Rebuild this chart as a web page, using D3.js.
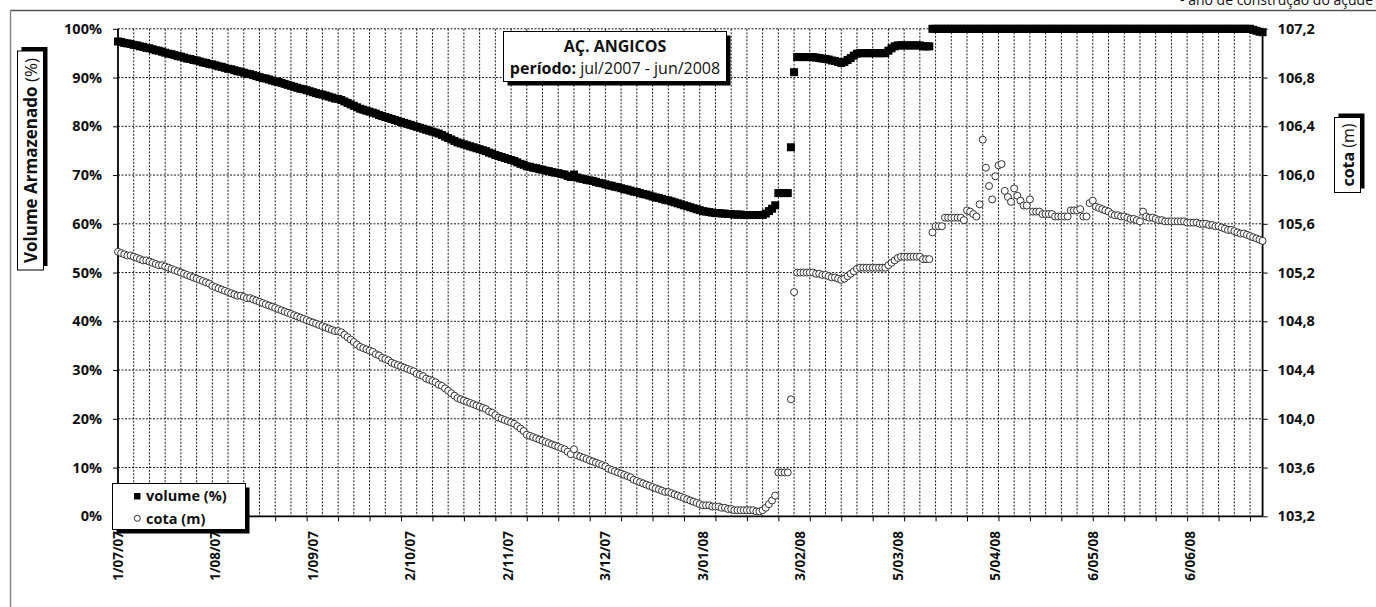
<!DOCTYPE html>
<html><head><meta charset="utf-8">
<script src="https://cdn.jsdelivr.net/npm/d3@7"></script>
<style>
body{margin:0;background:#fff}
svg{display:block}
text{font-family:"Open Sans",sans-serif;fill:#111}
</style>
</head><body>
<svg id="chart" width="1376" height="607"></svg>
<script>
// ---------- data ----------
const startDay = "2007-07-01";   // first daily reading
const endDay = "2008-06-29";     // last daily reading

// volume armazenado (%) - one value per day from 1/07/07
const volume = [
97.4,97.3,97.1,97.0,96.9,96.7,96.6,96.4,96.3,96.1,
96.0,95.8,95.6,95.5,95.3,95.1,94.9,94.8,94.6,94.4,
94.3,94.1,93.9,93.8,93.6,93.5,93.3,93.1,93.0,92.8,
92.7,92.5,92.3,92.2,92.0,91.8,91.7,91.5,91.3,91.2,
91.0,90.8,90.7,90.5,90.3,90.1,89.9,89.8,89.6,89.4,
89.2,89.1,88.9,88.7,88.5,88.3,88.1,87.9,87.7,87.6,
87.4,87.2,87.0,86.8,86.6,86.5,86.3,86.1,85.9,85.7,
85.6,85.4,85.1,84.8,84.5,84.2,83.9,83.6,83.4,83.2,
83.0,82.8,82.6,82.3,82.1,81.9,81.7,81.5,81.3,81.1,
80.9,80.7,80.5,80.3,80.1,79.9,79.7,79.5,79.3,79.1,
78.9,78.7,78.5,78.2,77.9,77.6,77.3,77.0,76.7,76.5,
76.3,76.1,75.9,75.7,75.5,75.3,75.1,74.9,74.6,74.4,
74.1,73.9,73.7,73.5,73.3,73.1,72.9,72.6,72.3,72.1,
71.8,71.7,71.5,71.4,71.2,71.1,70.9,70.8,70.6,70.5,
70.4,70.2,70.1,69.8,69.6,70.1,69.5,69.3,69.2,69.0,
68.9,68.8,68.6,68.4,68.3,68.1,67.9,67.8,67.6,67.5,
67.3,67.1,67.0,66.8,66.6,66.5,66.3,66.1,66.0,65.8,
65.6,65.4,65.3,65.1,64.9,64.8,64.6,64.4,64.2,64.0,
63.8,63.6,63.4,63.2,63.0,62.8,62.6,62.5,62.4,62.3,
62.2,62.2,62.1,62.1,62.0,62.0,61.9,61.9,61.9,61.8,
61.8,61.8,61.8,61.8,61.8,61.8,62.1,62.6,63.1,63.8,
66.3,66.3,66.3,66.3,75.7,91.1,94.2,94.2,94.2,94.2,
94.2,94.2,94.1,94.0,93.9,93.8,93.7,93.5,93.4,93.2,
93.0,93.2,93.6,94.0,94.5,94.9,95.0,95.0,95.0,95.0,
95.0,95.0,95.0,95.0,95.0,95.5,96.0,96.4,96.6,96.6,
96.6,96.6,96.6,96.6,96.6,96.6,96.4,96.4,96.4,100,
100,100,100,100,100,100,100,100,100,100,
100,100,100,100,100,100,100,100,100,100,
100,100,100,100,100,100,100,100,100,100,
100,100,100,100,100,100,100,100,100,100,
100,100,100,100,100,100,100,100,100,100,
100,100,100,100,100,100,100,100,100,100,
100,100,100,100,100,100,100,100,100,100,
100,100,100,100,100,100,100,100,100,100,
100,100,100,100,100,100,100,100,100,100,
100,100,100,100,100,100,100,100,100,100,
100,99.8,99.6,99.4,99.3
];

// cota (m) - one value per day from 1/07/07
const cota = [
105.37,105.36,105.35,105.34,105.34,105.33,105.32,105.31,105.30,105.30,
105.29,105.28,105.27,105.26,105.26,105.25,105.24,105.23,105.22,105.21,
105.20,105.19,105.18,105.17,105.16,105.15,105.14,105.13,105.12,105.11,
105.09,105.08,105.07,105.06,105.05,105.04,105.03,105.02,105.01,105.01,
105.00,104.99,104.99,104.98,104.97,104.96,104.95,104.94,104.93,104.92,
104.91,104.90,104.89,104.88,104.87,104.86,104.85,104.84,104.83,104.82,
104.81,104.80,104.79,104.78,104.77,104.76,104.75,104.74,104.73,104.72,
104.72,104.71,104.69,104.67,104.65,104.63,104.61,104.59,104.58,104.57,
104.56,104.55,104.53,104.52,104.50,104.49,104.48,104.46,104.45,104.44,
104.43,104.42,104.41,104.40,104.39,104.37,104.36,104.35,104.33,104.32,
104.31,104.30,104.28,104.27,104.25,104.23,104.21,104.19,104.17,104.16,
104.15,104.14,104.13,104.12,104.11,104.10,104.09,104.08,104.06,104.05,
104.03,104.01,104.00,103.99,103.98,103.97,103.96,103.94,103.92,103.90,
103.87,103.86,103.85,103.84,103.83,103.82,103.81,103.80,103.79,103.78,
103.77,103.76,103.75,103.73,103.71,103.75,103.70,103.69,103.68,103.67,
103.66,103.65,103.64,103.63,103.62,103.61,103.59,103.58,103.57,103.56,
103.55,103.54,103.53,103.52,103.50,103.49,103.48,103.47,103.46,103.45,
103.44,103.43,103.42,103.41,103.40,103.40,103.39,103.38,103.37,103.36,
103.35,103.34,103.33,103.32,103.31,103.30,103.29,103.29,103.29,103.28,
103.28,103.28,103.27,103.27,103.26,103.26,103.25,103.25,103.25,103.25,
103.25,103.25,103.25,103.24,103.24,103.25,103.27,103.30,103.33,103.37,
103.56,103.56,103.56,103.56,104.16,105.04,105.20,105.20,105.20,105.20,
105.20,105.20,105.19,105.19,105.18,105.18,105.17,105.16,105.16,105.15,
105.14,105.15,105.17,105.19,105.21,105.23,105.24,105.24,105.24,105.24,
105.24,105.24,105.24,105.24,105.24,105.26,105.28,105.30,105.32,105.33,
105.33,105.33,105.33,105.33,105.33,105.33,105.31,105.31,105.31,105.53,
105.58,105.58,105.58,105.65,105.65,105.65,105.65,105.65,105.65,105.63,
105.71,105.70,105.68,105.66,105.76,106.29,106.06,105.91,105.80,105.99,
106.08,106.09,105.87,105.82,105.78,105.89,105.83,105.79,105.75,105.75,
105.80,105.70,105.70,105.70,105.68,105.68,105.68,105.68,105.66,105.66,
105.66,105.66,105.66,105.71,105.71,105.71,105.72,105.66,105.66,105.77,
105.79,105.74,105.73,105.72,105.71,105.70,105.68,105.67,105.67,105.66,
105.66,105.65,105.64,105.64,105.63,105.62,105.70,105.66,105.65,105.65,
105.64,105.63,105.63,105.62,105.62,105.62,105.62,105.62,105.62,105.62,
105.61,105.61,105.61,105.61,105.60,105.60,105.60,105.59,105.59,105.58,
105.58,105.57,105.56,105.55,105.55,105.54,105.53,105.52,105.52,105.51,
105.50,105.49,105.48,105.47,105.46
];

const leftTicks = [0,10,20,30,40,50,60,70,80,90,100];
const rightTicks = [103.2,103.6,104.0,104.4,104.8,105.2,105.6,106.0,106.4,106.8,107.2];
const rightTickLabels = ["103,2","103,6","104,0","104,4","104,8","105,2","105,6","106,0","106,4","106,8","107,2"];
const dateLabels = ["1/07/07","1/08/07","1/09/07","2/10/07","2/11/07","3/12/07","3/01/08","3/02/08","5/03/08","5/04/08","6/05/08","6/06/08"];
const dateLabelDays = ["2007-07-01","2007-08-01","2007-09-01","2007-10-02","2007-11-02","2007-12-03","2008-01-03","2008-02-03","2008-03-05","2008-04-05","2008-05-06","2008-06-06"];

const titleLine1 = "AÇ. ANGICOS";
const titleBold = "período:";
const titleRest = " jul/2007 - jun/2008";
const leftTitleBold = "Volume Armazenado";
const leftTitleRest = " (%)";
const rightTitleBold = "cota";
const rightTitleRest = " (m)";
const legendLabels = ["volume  (%)", "cota (m)"];
const footnote = "- ano de construção do açude";

// ---------- setup ----------
const parse = d3.utcParse("%Y-%m-%d");
const d0 = parse(startDay), d1 = parse(endDay);
const dates = volume.map((_, i) => d3.utcDay.offset(d0, i));

const L = 118, R = 1262.6, T = 28.8, B = 516.3;
const x = d3.scaleUtc().domain([d0, d1]).range([L, R]);
const yL = d3.scaleLinear().domain([0, 100]).range([B, T]);
const yR = d3.scaleLinear().domain([103.2, 107.2]).range([B, T]);

const svg = d3.select("#chart");

// outer frame
svg.append("line").attr("x1", 10).attr("x2", 1376).attr("y1", 10.5).attr("y2", 10.5)
  .attr("stroke", "#555").attr("stroke-width", 1.5);
svg.append("line").attr("x1", 10.5).attr("x2", 10.5).attr("y1", 10).attr("y2", 607)
  .attr("stroke", "#888").attr("stroke-width", 1.5);

svg.append("text").attr("x", 1373).attr("y", 5).attr("text-anchor", "end")
  .style("font-size", "14px").text(footnote);

// grid
const grid = svg.append("g");
const vDays = d3.range(5, 365, 5).map(i => d3.utcDay.offset(d0, i));
grid.selectAll("line.v").data(vDays).join("line")
  .attr("x1", d => x(d)).attr("x2", d => x(d)).attr("y1", T).attr("y2", B)
  .attr("stroke", "#1a1a1a").attr("stroke-width", 1).attr("stroke-dasharray", "2,1.5");
grid.selectAll("line.h").data(leftTicks.slice(1)).join("line")
  .attr("x1", L).attr("x2", R).attr("y1", d => yL(d)).attr("y2", d => yL(d))
  .attr("stroke", "#1a1a1a").attr("stroke-width", 1).attr("stroke-dasharray", "2,1.5");

// axes
const axL = svg.append("g").attr("transform", `translate(${L},0)`)
  .call(d3.axisLeft(yL).tickValues(leftTicks).tickSize(5).tickFormat(d => d + "%"));
const axR = svg.append("g").attr("transform", `translate(${R},0)`)
  .call(d3.axisRight(yR).tickValues(rightTicks).tickSize(5).tickFormat((d, i) => rightTickLabels[i]));
const tickDays = d3.range(0, 365, 10).map(i => d3.utcDay.offset(d0, i));
const axB = svg.append("g").attr("transform", `translate(0,${B})`)
  .call(d3.axisBottom(x).tickValues(tickDays).tickSize(5).tickFormat(""));
[axL, axR, axB].forEach(a => {
  a.select(".domain").attr("stroke", "#000").attr("stroke-width", 1.8);
  a.selectAll(".tick line").attr("stroke", "#000");
});
axL.selectAll(".tick text").attr("x", -16).style("font-size", "14.5px").style("font-weight", "700")
  .style("font-family", "'Open Sans',sans-serif").attr("fill", "#111");
axR.selectAll(".tick text").attr("x", 15).style("font-size", "14.5px").style("font-weight", "700")
  .style("font-family", "'Open Sans',sans-serif").attr("fill", "#111");
axL.select(".domain").attr("d", `M0,${T}V${B}`);
axR.select(".domain").attr("d", `M0,${T}V${B}`);
axB.select(".domain").attr("d", `M${L},0H${R}`);

// date labels
svg.append("g").selectAll("text").data(dateLabels).join("text")
  .attr("transform", (d, i) => `translate(${x(parse(dateLabelDays[i]))},531) rotate(-90)`)
  .attr("text-anchor", "end").attr("dy", "0.36em")
  .style("font-size", "13.5px").style("font-weight", "700").text(d => d);

// series: volume squares
const sq = 8;
svg.append("g").selectAll("rect").data(volume).join("rect")
  .attr("x", (d, i) => x(dates[i]) - sq / 2).attr("y", d => yL(d) - sq / 2)
  .attr("width", sq).attr("height", sq).attr("fill", "#000");

// series: cota circles
svg.append("g").selectAll("circle").data(cota).join("circle")
  .attr("cx", (d, i) => x(dates[i])).attr("cy", d => yR(d)).attr("r", 3.5)
  .attr("fill", "#fff").attr("stroke", "#333").attr("stroke-width", 1);

// boxes with shadow
function box(x0, y0, w, h, dx, dy) {
  const g = svg.append("g");
  g.append("rect").attr("x", x0 + dx).attr("y", y0 + dy).attr("width", w).attr("height", h).attr("fill", "#000");
  g.append("rect").attr("x", x0).attr("y", y0).attr("width", w).attr("height", h)
    .attr("fill", "#fff").attr("stroke", "#000").attr("stroke-width", 1);
  return g;
}

// title
const tb = box(503.5, 31.5, 223, 50, 4, 4);
tb.append("text").attr("x", 615).attr("y", 52).attr("text-anchor", "middle")
  .style("font-size", "16px").style("font-weight", "700").text(titleLine1);
const t2 = tb.append("text").attr("x", 615).attr("y", 74).attr("text-anchor", "middle").style("font-size", "16px");
t2.append("tspan").style("font-weight", "700").text(titleBold);
t2.append("tspan").text(titleRest);

// left axis title
const lb = box(17.5, 51, 26, 219, 4, -4);
const lt = lb.append("text").attr("transform", "translate(31,160.5) rotate(-90)")
  .attr("text-anchor", "middle").attr("dy", "0.36em").style("font-size", "17px");
lt.append("tspan").style("font-weight", "700").text(leftTitleBold);
lt.append("tspan").text(leftTitleRest);

// right axis title
const rb = box(1334.5, 117.5, 26, 75, 4, -4);
const rt = rb.append("text").attr("transform", "translate(1348,155) rotate(-90)")
  .attr("text-anchor", "middle").attr("dy", "0.36em").style("font-size", "16px");
rt.append("tspan").style("font-weight", "700").text(rightTitleBold);
rt.append("tspan").text(rightTitleRest);

// legend
const lg = box(112.5, 483.5, 133, 46, 4, 4);
lg.append("rect").attr("x", 134).attr("y", 493).attr("width", 6.5).attr("height", 6.5).attr("fill", "#000");
lg.append("circle").attr("cx", 137.3).attr("cy", 518.3).attr("r", 3).attr("fill", "#fff").attr("stroke", "#333");
lg.selectAll("text.lab").data(legendLabels).join("text")
  .attr("x", 146).attr("y", (d, i) => 501 + i * 22.5)
  .style("font-size", "14.5px").style("font-weight", "700").text(d => d);
</script>
</body></html>
